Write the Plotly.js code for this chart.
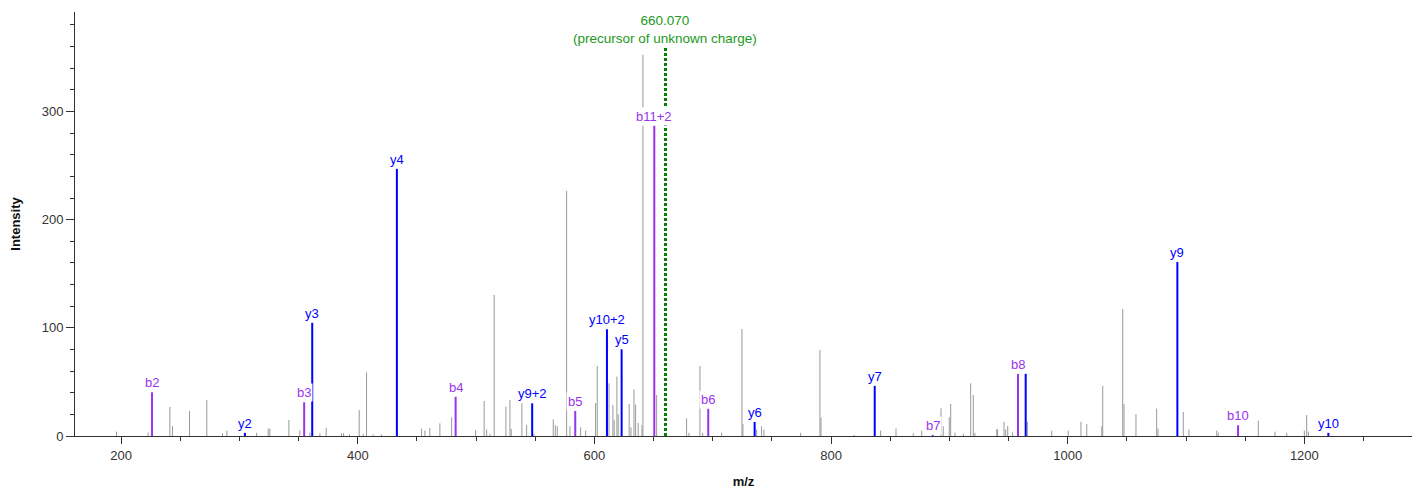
<!DOCTYPE html>
<html>
<head>
<meta charset="utf-8">
<script src="https://cdn.plot.ly/plotly-3.0.1.min.js"></script>
<style>html,body{margin:0;padding:0;background:#fff;}#chart{width:1414px;height:489px;}</style>
</head>
<body>
<div id="chart"></div>
<script>
// Unannotated peaks (m/z, intensity)
const grayMz = [196.1,222.8,241.2,243.4,257.8,272.4,285.7,289.4,314.5,324.3,325.7,341.8,351.0,359.5,368.0,373.3,386.3,388.0,393.0,401.2,404.6,407.4,413.0,420.0,
  453.9,456.7,460.9,469.4,479.3,499.6,506.8,508.9,511.7,515.3,525.2,528.6,529.7,538.7,542.7,548.9,565.2,566.9,568.6,576.5,579.3,588.3,592.6,
  601.0,602.4,612.3,615.6,616.7,619.0,620.1,629.4,630.9,633.4,634.8,637.0,640.2,641.0,652.6,677.9,679.9,689.2,691.5,707.5,
  724.7,725.5,737.1,741.3,743.3,774.3,790.6,791.5,819.6,841.9,854.9,869.5,876.6,892.9,894.8,899.9,901.1,904.7,911.8,918.0,920.2,921.6,
  940.0,940.8,946.2,947.6,949.3,953.5,965.9,986.5,1000.5,1011.2,1016.1,1028.8,1029.6,1046.5,1047.6,1057.7,1075.2,1076.3,1097.7,1102.5,
  1126.0,1127.2,1161.1,1175.2,1185.1,1200.0,1202.0,1203.4];
const grayInt = [4,3,26.8,9.2,23.1,33.3,2.6,4.9,3,6.8,6.8,14.8,5.2,3,2.5,7.4,2.5,2.5,1.5,24,2,58.9,1.5,1.5,
  6.8,5,7.4,11.7,17.3,5.5,32.4,6,2,130.4,27.1,33.3,6.5,30.2,10.2,2,15.4,10,9,226.6,9,8,5,
  30.5,64.8,48.7,28.7,15,54.9,20,29.6,8,43.2,29,12,10,352.5,37.9,16.3,3,64.8,3,3,
  99,11,6,9,6,3,79.6,17,1,5,7,2.5,5,25.6,9,17.3,29.6,3,2,48.7,37.9,3,
  6.2,6.2,13.2,6,9.3,3.5,13.2,5,5,13.2,11.1,9,46.3,117.5,29.6,20.3,25.3,7,22.2,6,
  5,3,14.2,4,3,5,19.4,4];

// y ions
const yMz = [304.6,361.5,433.05,547.4,610.6,623.0,735.4,836.9,964.5,1092.7,1220.3];
const yInt = [3,104.8,247,30.2,98.7,80.2,13,46.5,57.6,161,3];
const yLabels = ['y2','y3','y4','y9+2','y10+2','y5','y6','y7','','y9','y10'];

// b ions
const bMz = [226.1,354.7,482.7,583.8,650.6,696.2,885.9,958.0,1144.0];
const bInt = [40.4,31.2,36.4,23.1,287,25.3,1.2,57.6,9.9];
const bLabels = ['b2','b3','b4','b5','b11+2','b6','b7','b8','b10'];

// precursor
const precursorMz = 660.07;
const precursorTop = 359;
const precursorText = ['660.070','(precursor of unknown charge)'];

function sticks(mz, it) {
  const x = [], y = [];
  for (let i = 0; i < mz.length; i++) { x.push(mz[i], mz[i], null); y.push(0, it[i], null); }
  return {x, y};
}

const FONT = '"Liberation Sans", Arial, sans-serif';
const YCOL = '#0000ff', BCOL = '#9933ee', GREEN = '#008000';

const g = sticks(grayMz, grayInt);
const yy = sticks(yMz, yInt);
const bb = sticks(bMz, bInt);

const traces = [
  {x: g.x, y: g.y, mode: 'lines', line: {color: '#999999', width: 1}, hoverinfo: 'skip', showlegend: false},
  {x: [precursorMz, precursorMz], y: [0, precursorTop], mode: 'lines', line: {color: GREEN, width: 3, dash: '3px,2px'}, hoverinfo: 'skip', showlegend: false},
  {x: bb.x, y: bb.y, mode: 'lines', line: {color: BCOL, width: 2}, hoverinfo: 'skip', showlegend: false},
  {x: yy.x, y: yy.y, mode: 'lines', line: {color: YCOL, width: 2}, hoverinfo: 'skip', showlegend: false}
];

const annotations = [];
function addLabels(mz, it, labels, color) {
  for (let i = 0; i < mz.length; i++) {
    if (!labels[i]) continue;
    annotations.push({x: mz[i], y: it[i], xref: 'x', yref: 'y', text: labels[i], showarrow: false,
      yanchor: 'bottom', xanchor: 'center', yshift: 0, bgcolor: '#ffffff', borderpad: 1,
      font: {family: FONT, size: 13, color: color}});
  }
}
addLabels(bMz, bInt, bLabels, BCOL);
addLabels(yMz, yInt, yLabels, YCOL);
annotations.push({x: precursorMz, y: precursorTop, xref: 'x', yref: 'y', text: precursorText.join('<br>'),
  showarrow: false, yanchor: 'bottom', xanchor: 'center', yshift: 1, bgcolor: '#ffffff', borderpad: 0,
  font: {family: FONT, size: 13.5, color: '#229922'}});

const layout = {
  width: 1414, height: 489,
  margin: {l: 75, r: 2, t: 12, b: 53},
  paper_bgcolor: '#ffffff', plot_bgcolor: '#ffffff',
  font: {family: FONT, size: 13, color: '#333333'},
  showlegend: false,
  xaxis: {
    range: [161, 1291], showgrid: false, zeroline: false,
    showline: true, linecolor: '#333333', linewidth: 1,
    ticks: 'outside', ticklen: 7, tickcolor: '#333333', dtick: 200, tick0: 0,
    minor: {dtick: 50, ticks: 'outside', ticklen: 4, tickcolor: '#333333', showgrid: false},
    tickfont: {family: FONT, size: 13, color: '#333333'},
    title: {text: '<b>m/z</b>', font: {family: FONT, size: 13, color: '#111111'}, standoff: 17}
  },
  yaxis: {
    range: [0, 392], showgrid: false, zeroline: false,
    showline: true, linecolor: '#333333', linewidth: 1,
    ticks: 'outside', ticklen: 8, tickcolor: '#333333', dtick: 100, tick0: 0,
    minor: {dtick: 20, ticks: 'outside', ticklen: 4, tickcolor: '#333333', showgrid: false},
    tickfont: {family: FONT, size: 13, color: '#333333'},
    title: {text: '<b>Intensity</b>', font: {family: FONT, size: 13, color: '#111111'}, standoff: 18}
  },
  annotations: annotations
};

Plotly.newPlot('chart', traces, layout, {displayModeBar: false, staticPlot: true});
</script>
</body>
</html>
